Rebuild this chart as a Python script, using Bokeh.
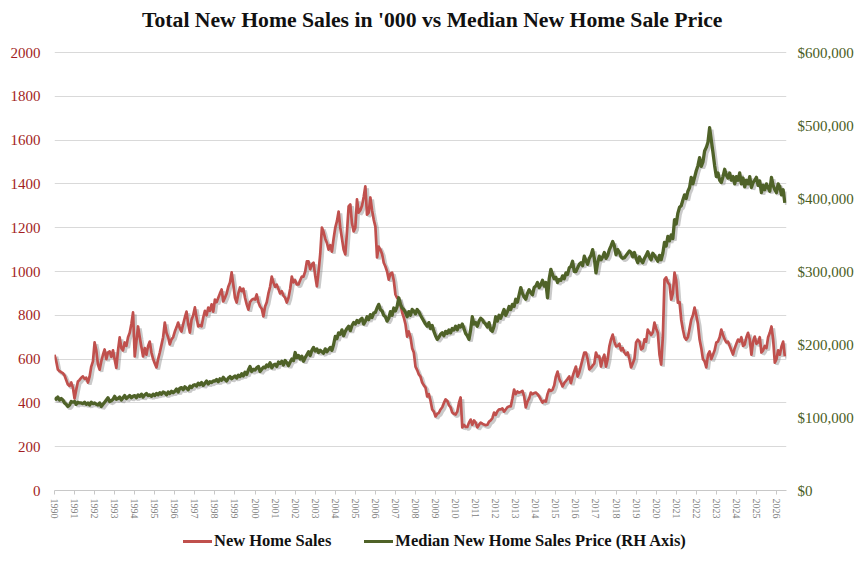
from bokeh.plotting import figure
from bokeh.layouts import column
from bokeh.models import (Range1d, LinearAxis, FixedTicker, NumeralTickFormatter,
                          ColumnDataSource, Div)
from bokeh.embed import file_html
from bokeh.resources import INLINE

# ---------------- data (monthly, Jan 1990 onwards) ----------------
title_text = "Total New Home Sales in '000 vs Median New Home Sale Price"
series_names = ["New Home Sales", "Median New Home Sales Price (RH Axis)"]
year_ticks = list(range(1990, 2027))
left_ticks = list(range(0, 2001, 200))
right_ticks = list(range(0, 600001, 100000))

# New home sales, thousands (SAAR)
new_home_sales = [
    620, 591, 552, 545, 540, 536, 525, 505, 484, 478, 493, 470,   # 1990
    420, 460, 498, 505, 515, 521, 510, 515, 493, 520, 566, 590,   # 1991
    676, 640, 575, 552, 590, 620, 644, 600, 630, 635, 610, 640,   # 1992
    598, 560, 640, 699, 650, 640, 676, 660, 700, 720, 760, 813,   # 1993
    612, 680, 749, 700, 655, 612, 650, 620, 660, 680, 630, 600,   # 1994
    580, 562, 600, 630, 665, 700, 767, 720, 700, 667, 690, 700,   # 1995
    726, 745, 767, 740, 726, 760, 790, 817, 760, 721, 780, 800,   # 1996
    836, 790, 749, 755, 750, 790, 820, 800, 835, 820, 850, 817,   # 1997
    872, 860, 880, 900, 918, 863, 880, 900, 930, 950, 996, 940,   # 1998
    880, 858, 900, 927, 910, 922, 880, 850, 826, 860, 870, 875,   # 1999
    872, 895, 860, 840, 830, 795, 840, 860, 900, 930, 977, 950,   # 2000
    930, 940, 920, 900, 910, 890, 880, 858, 880, 920, 977, 950,   # 2001
    960, 941, 941, 960, 977, 977, 1000, 1046, 1046, 1010, 1032, 1040,  # 2002
    980, 932, 1000, 1080, 1201, 1180, 1150, 1130, 1100, 1120, 1091, 1150,  # 2003
    1200, 1230, 1274, 1200, 1150, 1100, 1078, 1180, 1297, 1306, 1220, 1183,  # 2004
    1200, 1329, 1269, 1280, 1300, 1340, 1389, 1260, 1269, 1338, 1280, 1237,  # 2005
    1205, 1064, 1114, 1100, 1080, 1040, 1023, 1000, 963, 990, 995, 960,  # 2006
    895, 880, 872, 850, 813, 790, 760, 703, 726, 700, 650, 630,   # 2007
    566, 550, 530, 520, 493, 480, 470, 429, 440, 410, 370, 360,   # 2008
    338, 350, 355, 370, 380, 400, 416, 410, 390, 380, 356, 350,   # 2009
    347, 360, 400, 425, 288, 300, 290, 290, 310, 324, 300, 320,   # 2010
    310, 288, 300, 310, 305, 301, 298, 300, 315, 320, 330, 356,   # 2011
    345, 361, 370, 370, 375, 360, 370, 380, 384, 384, 420, 461,   # 2012
    440, 452, 447, 450, 455, 430, 379, 406, 420, 447, 440, 445,   # 2013
    447, 440, 430, 415, 402, 410, 406, 440, 461, 455, 460, 480,   # 2014
    520, 543, 510, 493, 475, 490, 500, 510, 521, 490, 521, 545,   # 2015
    566, 520, 540, 570, 600, 630, 630, 600, 553, 560, 570, 580,   # 2016
    630, 610, 612, 566, 600, 620, 566, 600, 658, 690, 712, 680,   # 2017
    658, 660, 670, 640, 650, 630, 620, 630, 600, 562, 580, 600,   # 2018
    676, 689, 680, 644, 650, 690, 680, 735, 721, 710, 721, 767,   # 2019
    740, 720, 620, 575, 700, 963, 973, 950, 940, 872, 900, 995,   # 2020
    960, 858, 860, 780, 735, 700, 689, 700, 740, 780, 800, 835,   # 2021
    800, 760, 689, 650, 600, 590, 562, 620, 635, 600, 620, 640,   # 2022
    676, 680, 700, 735, 710, 690, 676, 680, 660, 640, 621, 650,   # 2023
    670, 689, 680, 700, 660, 667, 700, 720, 690, 620, 680, 703,   # 2024
    670, 676, 700, 630, 640, 660, 650, 700, 720, 749, 690, 584,   # 2025
    600, 640, 620, 658, 680, 612,                                 # 2026
]

# Median new home sales price, $ thousands
median_price_k = [
    127, 125, 128, 124, 126, 124, 120, 118, 115, 117, 122, 121,   # 1990
    122, 118, 121, 120, 120, 119, 121, 118, 120, 117, 121, 119,   # 1991
    120, 118, 117, 120, 115, 118, 121, 124, 127, 122, 123, 125,   # 1992
    129, 125, 126, 128, 124, 127, 130, 126, 128, 130, 127, 129,   # 1993
    130, 127, 131, 129, 132, 128, 131, 133, 130, 131, 129, 132,   # 1994
    130, 133, 131, 134, 132, 135, 134, 131, 135, 133, 136, 134,   # 1995
    136, 139, 135, 140, 141, 138, 142, 140, 138, 143, 141, 144,   # 1996
    145, 143, 147, 145, 148, 144, 147, 150, 146, 149, 148, 150,   # 1997
    150, 152, 149, 153, 151, 155, 152, 150, 154, 156, 153, 155,   # 1998
    157, 154, 158, 156, 160, 157, 162, 159, 165, 170, 163, 166,   # 1999
    165, 168, 170, 163, 166, 169, 168, 172, 170, 175, 168, 172,   # 2000
    173, 170, 176, 174, 177, 172, 178, 175, 171, 176, 180, 178,   # 2001
    189, 182, 185, 180, 184, 177, 182, 186, 190, 185, 192, 196,   # 2002
    191, 194, 189, 192, 190, 188, 194, 190, 193, 196, 192, 200,   # 2003
    211, 208, 216, 214, 220, 212, 218, 222, 225, 219, 226, 230,   # 2004
    228, 233, 230, 234, 236, 228, 232, 238, 234, 241, 237, 243,   # 2005
    244, 250, 255, 248, 246, 240, 238, 232, 236, 245, 240, 250,   # 2006
    246, 252, 264, 255, 250, 248, 244, 238, 245, 240, 248, 246,   # 2007
    242, 248, 245, 240, 236, 232, 228, 225, 230, 222, 226, 218,   # 2008
    212, 207, 210, 214, 216, 212, 218, 215, 220, 216, 222, 220,   # 2009
    225, 220, 226, 224, 228, 222, 215, 212, 207, 220, 238, 228,   # 2010
    230, 225, 232, 236, 234, 230, 228, 224, 230, 220, 218, 225,   # 2011
    238, 232, 240, 236, 242, 248, 240, 245, 252, 248, 255, 252,   # 2012
    262, 258, 268, 278, 270, 265, 262, 270, 275, 271, 268, 278,   # 2013
    280, 285, 278, 282, 288, 280, 285, 264, 290, 303, 296, 290,   # 2014
    292, 285, 289, 288, 294, 290, 298, 296, 305, 307, 314, 300,   # 2015
    300, 305, 310, 312, 308, 321, 315, 310, 318, 322, 330, 318,   # 2016
    298, 312, 321, 316, 320, 326, 318, 322, 330, 335, 341, 335,   # 2017
    323, 330, 326, 320, 318, 319, 322, 325, 328, 326, 320, 326,   # 2018
    318, 312, 320, 315, 312, 318, 322, 327, 320, 316, 325, 322,   # 2019
    318, 314, 322, 316, 325, 340, 335, 348, 342, 350, 345, 371,   # 2020
    365, 380, 388, 390, 398, 405, 400, 410, 415, 429, 420, 429,   # 2021
    438, 445, 456, 444, 450, 465, 470, 477, 497, 480, 463, 445,   # 2022
    430, 435, 425, 422, 430, 440, 432, 428, 435, 425, 430, 420,   # 2023
    430, 425, 435, 420, 428, 416, 425, 420, 430, 415, 422, 425,   # 2024
    429, 418, 424, 408, 418, 412, 420, 415, 410, 429, 418, 412,   # 2025
    408, 420, 416, 405, 412, 394,                                 # 2026
]

start_year = 1990
n = len(new_home_sales)
month_x = [start_year + i / 12 for i in range(n)]
median_price = [v * 1000 for v in median_price_k]

# ---------------- styling ----------------
RED = "#c0504d"
GREEN = "#4f6228"
LEFT_LABEL = "#a21e23"
RIGHT_LABEL = "#4a5d23"
SERIF = "Liberation Serif"
PAGE_W = 851

x_lo, x_hi = 1990, 2026.5
FW, FH = 732, 438          # frame size for the 0..2000 span
TOP_PAD = 21               # blank headroom above the 2000 gridline (px)
left_top = 2000 + TOP_PAD * 2000 / FH
right_top = 600000 + TOP_PAD * 600000 / FH


def spacer(w):
    return f'<span style="display:inline-block;width:{w}px;"></span>'


title_div = Div(text=(f'<div style="text-align:left;padding-top:8px;font-family:\'{SERIF}\';'
                      f'font-weight:bold;font-size:21.7px;line-height:24px;color:#111111;'
                      f'white-space:nowrap;">{spacer(142)}{title_text}</div>'),
                width=PAGE_W, height=31, margin=0)

p = figure(frame_width=FW, frame_height=FH + TOP_PAD, x_range=Range1d(x_lo, x_hi),
           y_range=Range1d(0, left_top),
           output_backend="svg", toolbar_location=None,
           min_border_left=0, min_border_right=0, min_border_top=0, min_border_bottom=0,
           background_fill_color="white", border_fill_color="white", margin=(0, 0, 0, 7))
p.outline_line_color = None
p.extra_y_ranges = {"price": Range1d(0, right_top)}

# grid
p.xgrid.grid_line_color = None
p.ygrid.ticker = FixedTicker(ticks=left_ticks)
p.ygrid.grid_line_color = "#d9d9d9"
p.ygrid.grid_line_width = 1

# left axis
ya = p.yaxis[0]
ya.ticker = FixedTicker(ticks=left_ticks)
ya.axis_line_color = None
ya.major_tick_line_color = None
ya.minor_tick_line_color = None
ya.major_label_text_font = SERIF
ya.major_label_text_font_size = "15px"
ya.major_label_text_color = LEFT_LABEL
ya.major_label_standoff = 8

# right axis
ra = LinearAxis(y_range_name="price", ticker=FixedTicker(ticks=right_ticks),
                formatter=NumeralTickFormatter(format="$0,0"))
ra.axis_line_color = None
ra.major_tick_line_color = None
ra.minor_tick_line_color = None
ra.major_label_text_font = SERIF
ra.major_label_text_font_size = "15px"
ra.major_label_text_color = RIGHT_LABEL
ra.major_label_standoff = 5
p.add_layout(ra, "right")

# bottom axis
xa = p.xaxis[0]
xa.ticker = FixedTicker(ticks=year_ticks)
xa.major_label_orientation = "vertical"
xa.major_label_text_font = SERIF
xa.major_label_text_font_size = "10px"
xa.major_label_text_color = "#808080"
xa.axis_line_color = "#c8c8c8"
xa.major_tick_line_color = "#c8c8c8"
xa.major_tick_in = 0
xa.major_tick_out = 4
xa.minor_tick_line_color = None
xa.major_label_standoff = 4

# ---------------- lines ----------------
src = ColumnDataSource(dict(x=month_x, sales=new_home_sales, price=median_price))

# soft drop shadow (offset of ~2px right / down)
px = 2.0
dx = px * (x_hi - x_lo) / FW
dy_sales = px * 2000 / FH
dy_price = px * 600000 / FH
shadow = ColumnDataSource(dict(x=[v + dx for v in month_x],
                               sales=[v - dy_sales for v in new_home_sales],
                               price=[v - dy_price for v in median_price]))
p.line("x", "sales", source=shadow, line_color="#7a7a7a", line_alpha=0.4, line_width=3.4)
p.line("x", "price", source=shadow, y_range_name="price", line_color="#7a7a7a",
       line_alpha=0.4, line_width=3.8)

r_sales = p.line("x", "sales", source=src, line_color=RED, line_width=2.7, line_join="round")
r_price = p.line("x", "price", source=src, y_range_name="price", line_color=GREEN,
                 line_width=3.3, line_join="round")

# ---------------- legend (below the chart) ----------------
def swatch(color):
    return (f'<span style="display:inline-block;width:29px;height:3px;background:{color};'
            f'vertical-align:middle;margin-right:2px;position:relative;top:-1px;"></span>')

legend_html = (f'<div style="text-align:left;font-family:\'{SERIF}\';'
               f'font-weight:bold;font-size:16.5px;line-height:20px;color:#111111;'
               f'white-space:nowrap;padding-top:10px;">'
               f'{spacer(183)}{swatch(RED)}{series_names[0]}'
               f'{spacer(33)}'
               f'{swatch(GREEN)}{series_names[1]}</div>')
legend_div = Div(text=legend_html, width=PAGE_W, height=30, margin=0)

layout = column(title_div, p, legend_div, spacing=0)

open("out.html", "w").write(file_html(layout, INLINE))
